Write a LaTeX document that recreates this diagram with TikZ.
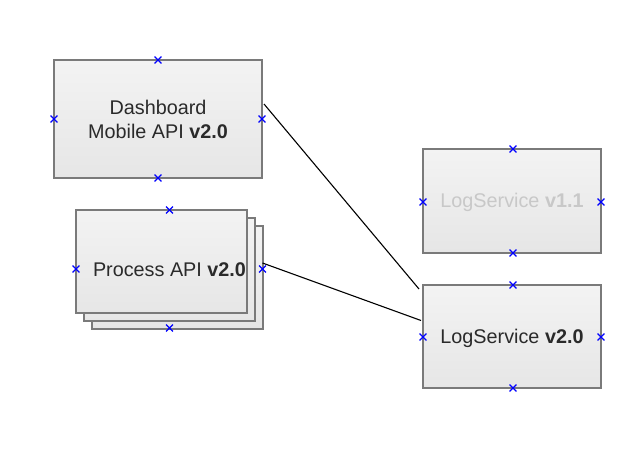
\documentclass[tikz,border=0pt]{standalone}
\usepackage{fontspec}
\setmainfont{Liberation Sans}
\usetikzlibrary{shapes.misc}
\definecolor{boxtop}{HTML}{F3F3F3}
\definecolor{boxbot}{HTML}{E6E6E6}
\definecolor{boxline}{HTML}{7A7A7A}
\definecolor{txt}{HTML}{2A2A2A}
\definecolor{faint}{HTML}{C8C8C8}
\tikzset{
  box/.style={draw=boxline, line width=1.5pt, top color=boxtop, bottom color=boxbot,
    rectangle, inner sep=0pt, outer sep=0pt},
  lbl/.style={text=txt, font=\fontsize{19.8}{24}\selectfont, align=center, inner sep=0pt},
  xmark/.style={cross out, draw=blue, line width=1.3pt, minimum size=5.5pt, inner sep=0pt},
  conn/.style={draw=black, line width=1.1pt}
}
\begin{document}
\begin{tikzpicture}[x=1pt,y=-1pt]
\useasboundingbox (0,0) rectangle (626,450);
% Dashboard
\node[box, minimum width=208pt, minimum height=118pt] (dash) at (158,119) {};
\node[lbl] (dashlbl) at (158,119.5) {Dashboard\\Mobile API \textbf{v2.0}};
% Process stack
\node[box, minimum width=171pt, minimum height=103pt] (proc3) at (177.5,277.5) {};
\node[box, minimum width=171pt, minimum height=103pt] (proc2) at (169.5,269.5) {};
\node[box, minimum width=171pt, minimum height=103pt] (proc) at (161.5,261.5) {};
\node[lbl] (proclbl) at (169.5,270) {Process API \textbf{v2.0}};
% LogService v1.1
\node[box, minimum width=178pt, minimum height=104pt] (ls1) at (512,201) {};
\node[lbl, text=faint] (ls1lbl) at (512,202.5) {LogService \textbf{v1.1}};
% LogService v2.0
\node[box, minimum width=178pt, minimum height=103pt] (ls2) at (512,336.5) {};
\node[lbl] (ls2lbl) at (512,338) {LogService \textbf{v2.0}};
% connectors
\coordinate (a1) at (264,104);
\coordinate (a2) at (419,289);
\coordinate (b1) at (262.5,263);
\coordinate (b2) at (421,320.5);
\draw[conn] (a1) -- (a2);
\draw[conn] (b1) -- (b2);
% markers
\node[xmark] (m1) at (158,60) {};
\node[xmark] (m2) at (158,178) {};
\node[xmark] (m3) at (54,119) {};
\node[xmark] (m4) at (262,119) {};
\node[xmark] (m5) at (169.5,210) {};
\node[xmark] (m6) at (169.5,328) {};
\node[xmark] (m7) at (76,269) {};
\node[xmark] (m8) at (262.5,269) {};
\node[xmark] (m9) at (513,149) {};
\node[xmark] (m10) at (513,253) {};
\node[xmark] (m11) at (423,202) {};
\node[xmark] (m12) at (601,202) {};
\node[xmark] (m13) at (513,285) {};
\node[xmark] (m14) at (513,388) {};
\node[xmark] (m15) at (423,337) {};
\node[xmark] (m16) at (601,337) {};
\end{tikzpicture}
\end{document}
